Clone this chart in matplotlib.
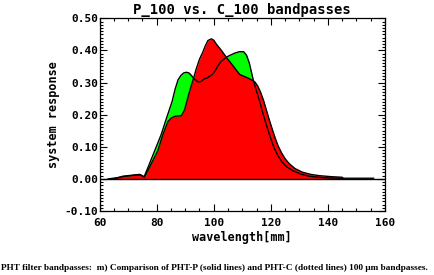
import matplotlib
matplotlib.use("Agg")
import matplotlib.pyplot as plt
from matplotlib.ticker import MultipleLocator, FormatStrFormatter

plt.rcParams['axes.unicode_minus'] = False

# C_100 bandpass (green)
c100_wl = [64, 66, 68, 70, 72, 74, 75.6, 77, 79.3, 81.6, 83.5, 85.4, 86.5, 87.5,
           88.5, 89.5, 90.4, 91.3, 92.2, 93.3, 94.5, 95.5, 96.5, 98, 99.5, 100.5,
           101.5, 102.5, 104.4, 106, 107.5, 109, 110.5, 111.5, 112.5, 113.8,
           114.5, 115.3, 116.2, 117.2, 118.2, 119.2, 120.2, 121.2, 122.4, 123.8,
           125.5, 127.8, 130.5, 133.5, 137, 140, 145, 150, 156]
c100_resp = [0.0, 0.002, 0.008, 0.01, 0.012, 0.014, 0.006, 0.036, 0.087, 0.138,
             0.19, 0.24, 0.28, 0.308, 0.322, 0.33, 0.332, 0.33, 0.322, 0.31,
             0.302, 0.303, 0.31, 0.316, 0.325, 0.337, 0.352, 0.365, 0.379, 0.386,
             0.392, 0.396, 0.396, 0.385, 0.36, 0.31, 0.288, 0.265, 0.238, 0.205,
             0.175, 0.147, 0.12, 0.096, 0.074, 0.054, 0.038, 0.025, 0.015, 0.008,
             0.005, 0.003, 0.002, 0.002, 0.002]

# P_100 bandpass (red)
p100_wl = [63, 65, 67, 69, 71, 73, 74.5, 75.8, 77.5, 80.4, 82.2, 84, 85.2, 86.5,
           88.7, 89.8, 90.4, 91.3, 92.2, 93.1, 93.9, 95, 96.2, 97.1, 98, 99.2,
           100, 100.9, 102.7, 104.4, 106.5, 109.1, 111, 112.5, 114.4, 115.5,
           116.5, 117.5, 118.5, 119.5, 120.5, 121.5, 122.5, 123.7, 125, 126.5,
           128.5, 131, 134, 137, 141, 145, 145.5]
p100_resp = [0.0, 0.002, 0.005, 0.008, 0.01, 0.012, 0.012, 0.006, 0.036, 0.087,
             0.138, 0.179, 0.19, 0.195, 0.197, 0.215, 0.235, 0.265, 0.292, 0.318,
             0.343, 0.372, 0.395, 0.415, 0.431, 0.436, 0.432, 0.42, 0.40, 0.379,
             0.355, 0.325, 0.318, 0.312, 0.302, 0.288, 0.268, 0.243, 0.213, 0.183,
             0.155, 0.128, 0.104, 0.082, 0.063, 0.047, 0.032, 0.021, 0.014, 0.01,
             0.007, 0.005, 0.0]

fig = plt.figure(figsize=(4.34, 2.75), dpi=100)
ax = fig.add_axes([99.5 / 434, 1 - 211 / 275, (385 - 99.5) / 434, (211 - 18.3) / 275])

ax.fill_between(c100_wl, 0, c100_resp, color='#00ff00', linewidth=0)
ax.fill_between(p100_wl, 0, p100_resp, color='#ff0000', linewidth=0)
ax.plot(c100_wl, c100_resp, color='black', lw=1.0)
ax.plot(p100_wl, p100_resp, color='black', lw=1.0)
ax.axhline(0, color='black', lw=1.0)

ax.set_xlim(60, 160)
ax.set_ylim(-0.10, 0.50)
ax.xaxis.set_major_locator(MultipleLocator(20))
ax.xaxis.set_minor_locator(MultipleLocator(5))
ax.yaxis.set_major_locator(MultipleLocator(0.1))
ax.yaxis.set_minor_locator(MultipleLocator(0.01))
ax.yaxis.set_major_formatter(FormatStrFormatter('%.2f'))
ax.xaxis.set_major_formatter(FormatStrFormatter('%d'))

mono = 'DejaVu Sans Mono'
ax.tick_params(which='both', direction='in', top=True, right=True, width=0.8)
ax.tick_params(which='major', length=5)
ax.tick_params(which='minor', length=2.5)
ax.tick_params(axis='y', which='major', pad=1)
ax.tick_params(axis='x', which='major', pad=5)
for lab in ax.get_xticklabels() + ax.get_yticklabels():
    lab.set_fontfamily(mono)
    lab.set_fontweight('bold')
    lab.set_fontsize(8)
for s in ax.spines.values():
    s.set_linewidth(0.9)

ax.set_title('P_100 vs. C_100 bandpasses', fontfamily=mono, fontweight='bold',
             fontsize=10, pad=3)
ax.set_xlabel('wavelength[mm]', fontfamily=mono, fontweight='bold', fontsize=8.5)
ax.set_ylabel('system response', fontfamily=mono, fontweight='bold', fontsize=8.5)
ax.xaxis.set_label_coords(0.5, -0.105)
ax.yaxis.set_label_coords(-0.138, 0.5)

fig.text(0.002, 1 - 268 / 275, 'PHT filter bandpasses:  m) Comparison of PHT-P (solid lines) '
         'and PHT-C (dotted lines) 100 \u03bcm bandpasses.',
         fontfamily='Liberation Serif', fontweight='bold', fontsize=6.7,
         ha='left', va='center')

fig.savefig('out.png', dpi=100)
